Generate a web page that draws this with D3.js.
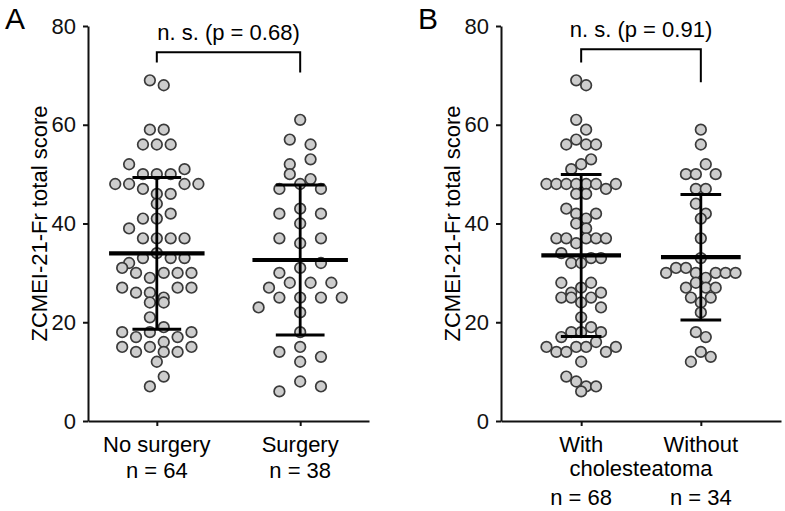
<!DOCTYPE html>
<html>
<head>
<meta charset="utf-8">
<script src="https://cdn.jsdelivr.net/npm/d3@7"></script>
<style>
  body { margin: 0; background: #fff; }
  svg { font-family: "Liberation Sans", Arial, sans-serif; }
</style>
</head>
<body>
<svg id="chart" width="785" height="511"></svg>
<script>
// scores, listed row by row (left to right) as they sit in each swarm
const noSurgery = [69, 68, 59, 59, 56, 56, 56, 52, 50, 50, 50, 51, 48, 48, 47, 46, 46, 48, 48,
  44, 41, 41, 42, 39, 37, 37, 37, 37, 32, 33, 34, 33, 33, 31, 30, 29, 30, 30, 30,
  27, 26, 26, 25, 27, 27, 24, 24, 21, 19, 18, 17, 18, 16, 17, 18, 15, 14, 15, 14, 14, 15,
  12, 7, 9];
const surgery = [61, 57, 56, 52, 53, 50, 49, 47, 48, 47, 42, 43, 42, 40, 37, 36, 37,
  30, 31, 32, 27, 28, 28, 28, 23, 25, 25, 25, 25, 22, 18, 14, 15, 13, 12, 6, 8, 7];
const withChole = [69, 68, 61, 59, 56, 57, 56, 56, 51, 52, 53, 48, 48, 48, 48, 48, 48, 47, 48,
  46, 46, 43, 42, 41, 42, 40, 39, 37, 37, 36, 37, 37, 37, 34, 32, 32, 33, 33,
  28, 26, 27, 28, 26, 25, 25, 24, 25, 23, 21, 17, 18, 18, 19, 18,
  15, 14, 14, 15, 15, 16, 14, 15, 12, 9, 8, 7, 7, 6];
const withoutChole = [59, 56, 50, 50, 52, 50, 47, 47, 44, 42, 41, 37, 33,
  30, 31, 31, 30, 29, 30, 30, 30, 27, 28, 27, 27, 25, 24, 25, 22, 18, 17, 12, 14, 13];

const groupsA = ["No surgery", "Surgery"];
const groupsB = ["With", "Without"];
const pValues = ["0.68", "0.91"];
const yTicks = [0, 20, 40, 60, 80];
const yTitle = "ZCMEI-21-Fr total score";

const svg = d3.select("#chart");
const y = d3.scaleLinear().domain([0, 80]).range([421, 26]);

// prism-like scatter: close values share a row, rows are centred on the group
function swarm(values, cx, half) {
  let rows = [];
  let row = null;
  values.forEach(v => {
    if (row && row.length < 8 && Math.max(d3.max(row), v) - Math.min(d3.min(row), v) <= 2) {
      row.push(v);
    } else {
      row = [v];
      rows.push(row);
    }
  });
  const widest = d3.max(rows, r => r.length);
  const gap = widest > 1 ? half / ((widest - 1) / 2) : 0;
  let pts = [];
  rows.forEach(r => r.forEach((v, i) => pts.push({ v: v, x: cx + (i - (r.length - 1) / 2) * gap })));
  return pts;
}

function panel(p) {
  const g = svg.append("g");
  const x = d3.scalePoint().domain(p.groups).range([p.x0, p.x1]).padding(p.pad);
  const step = x.step();

  // letter and axis title
  g.append("text").attr("x", p.x0 - 83).attr("y", 29)
    .attr("font-size", 30).text(p.letter);
  g.append("text")
    .attr("transform", `translate(${p.x0 - 41},${y(40)}) rotate(-90)`)
    .attr("text-anchor", "middle").attr("font-size", 22).text(yTitle);

  // y axis
  const ya = g.append("g").attr("transform", `translate(${p.x0},0)`)
    .call(d3.axisLeft(y).tickValues(yTicks).tickSize(5).tickSizeOuter(0).tickPadding(7));
  ya.select(".domain").attr("stroke", "#111").attr("stroke-width", 2);
  ya.selectAll(".tick line").attr("stroke", "#111").attr("stroke-width", 2);
  ya.selectAll(".tick text").attr("font-size", 22).attr("fill", "#111")
    .attr("font-family", "Liberation Sans, Arial, sans-serif");

  // x axis
  const xa = g.append("g").attr("transform", `translate(0,${y(0)})`)
    .call(d3.axisBottom(x).tickSize(5).tickSizeOuter(0).tickFormat(""));
  xa.select(".domain").attr("stroke", "#111").attr("stroke-width", 2);
  xa.selectAll(".tick line").attr("stroke", "#111").attr("stroke-width", 2);

  // category labels
  p.groups.forEach((name, i) => {
    g.append("text").attr("x", x(name)).attr("y", 452)
      .attr("text-anchor", "middle").attr("font-size", 22).text(name);
    g.append("text").attr("x", x(name)).attr("y", p.nY)
      .attr("text-anchor", "middle").attr("font-size", 22).text(`n = ${p.data[i].length}`);
  });
  if (p.extra) {
    g.append("text").attr("x", (x(p.groups[0]) + x(p.groups[1])) / 2).attr("y", 476)
      .attr("text-anchor", "middle").attr("font-size", 22).text(p.extra);
  }

  // points, then mean and SD on top
  p.groups.forEach((name, i) => {
    const vals = p.data[i];
    const pts = swarm(vals, x(name), step * 0.29);
    g.selectAll(null).data(pts).enter().append("circle")
      .attr("cx", d => d.x)
      .attr("cy", d => y(d.v))
      .attr("r", 5.3)
      .attr("fill", "#cdcdcd")
      .attr("stroke", "#3a3a3a")
      .attr("stroke-width", 1.7);

    const m = d3.mean(vals);
    const sd = d3.deviation(vals);
    const cx = x(name);
    g.append("line").attr("x1", cx).attr("x2", cx).attr("y1", y(m + sd)).attr("y2", y(m - sd))
      .attr("stroke", "#000").attr("stroke-width", 2.8);
    [m + sd, m - sd].forEach(v => {
      g.append("line").attr("x1", cx - step * 0.17).attr("x2", cx + step * 0.17)
        .attr("y1", y(v)).attr("y2", y(v)).attr("stroke", "#000").attr("stroke-width", 3);
    });
    g.append("line").attr("x1", cx - step * 0.333).attr("x2", cx + step * 0.333)
      .attr("y1", y(m)).attr("y2", y(m)).attr("stroke", "#000").attr("stroke-width", 4.2);
  });

  // significance bracket
  const xl = x(p.groups[0]), xr = x(p.groups[1]);
  g.append("path")
    .attr("d", `M${xl},${y(p.br[1])}V${y(p.br[0])}H${xr}V${y(p.br[2])}`)
    .attr("fill", "none").attr("stroke", "#000").attr("stroke-width", 2);
  g.append("text").attr("x", (xl + xr) / 2).attr("y", y(p.br[0]) - 12)
    .attr("text-anchor", "middle").attr("font-size", 22).text(`n. s. (p = ${p.pv})`);
}

panel({ letter: "A", groups: groupsA, data: [noSurgery, surgery], x0: 88, x1: 369, pad: 0.48,
  nY: 478, pv: pValues[0], br: [74.7, 72.6, 70.6] });
panel({ letter: "B", groups: groupsB, data: [withChole, withoutChole], x0: 501, x1: 781, pad: 0.67,
  nY: 505, extra: "cholesteatoma", pv: pValues[1], br: [75.3, 72.6, 68.6] });
</script>
</body>
</html>
